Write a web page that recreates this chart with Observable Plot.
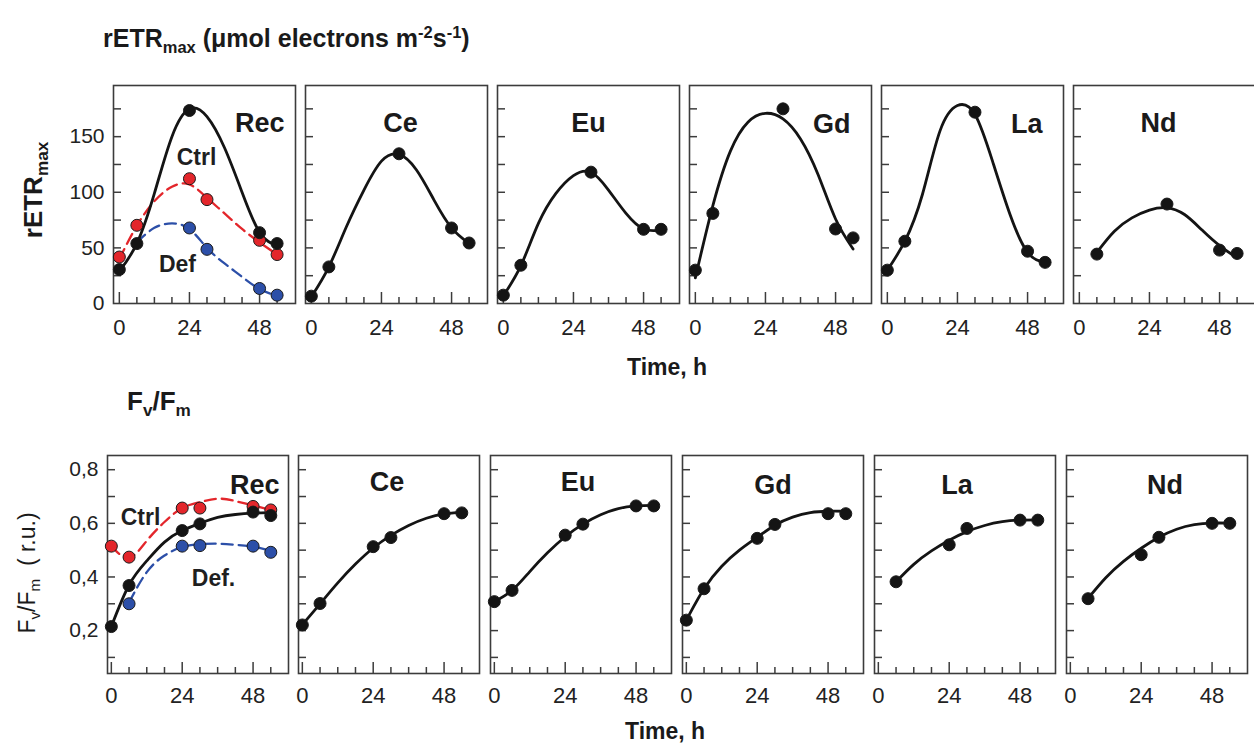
<!DOCTYPE html>
<html><head><meta charset="utf-8">
<script src="https://cdn.jsdelivr.net/npm/d3@7"></script>
<script src="https://cdn.jsdelivr.net/npm/@observablehq/plot@0.6"></script>
<style>
body{margin:0;background:#fff;font-family:"Liberation Sans",Arial,sans-serif;}
#root{position:relative;width:1254px;height:748px;overflow:hidden;background:#fff;}
.lbl{position:absolute;white-space:nowrap;color:#1a1a1a;}
.rot{transform:translate(-50%,-50%) rotate(-90deg);}
.mid{transform:translate(0,-50%);}
.lbl sub,.lbl sup{font-size:66%;line-height:0;}
</style></head><body><div id="root"></div>
<script>
// ---------- data ----------
const elements = ["Rec","Ce","Eu","Gd","La","Nd"];
const sampleTimes = [0, 6, 24, 30, 48, 54];
const fitTimes = [0, 6, 12, 18, 24, 30, 36, 42, 48, 54];
const xTicksMinor = [6, 12, 18, 30, 36, 42, 54];
const xTicksMajor = [0, 24, 48];
const xTickLabels = [0, 24, 48];
const etrTicks = [25, 50, 75, 100, 125, 150, 175];
const etrTickLabels = [0, 50, 100, 150];
const fvTicks = [0.1, 0.2, 0.3, 0.4, 0.5, 0.6, 0.7, 0.8];
const fvTickLabels = [0.2, 0.4, 0.6, 0.8];

// rETRmax measured points (null = no point)
const etrRec  = [30.5, 53.9, 173.5, null, 63.7, 53.9];
const etrCtrl = [41.8, 70.3, 112.2, 93.4, 56.8, 44.0];
const etrDef  = [null, null, 67.9, 48.7, 13.5, 7.5];
const etrCe   = [6.6, 32.9, null, 134.6, 67.9, 54.4];
const etrEu   = [7.5, 34.4, null, 118.1, 66.7, 66.7];
const etrGd   = [30.0, 81.0, null, 175.0, 67.0, 59.0];
const etrLa   = [30.0, 56.0, null, 172.0, 47.0, 37.0];
const etrNd   = [null, 44.4, null, 89.4, 48.0, 45.0];
// rETRmax fitted curves read at fitTimes
const etrRecFit  = [29, 54, 99, 150, 175, 168, 140, 100, 64, 52];
const etrCtrlFit = [40, 70, 92, 105, 107, 95, 81, 67, 55, 44];
const etrDefFit  = [null, 55, 68, 72, 67, 50, 36, 24, 13, 7];
const etrCeFit   = [6, 33, 69, 102, 128, 134, 120, 93, 68, 54];
const etrEuFit   = [7, 34, 72, 99, 115, 118, 102, 81, 67, 66];
const etrGdFit   = [23, 88, 137, 163, 171, 166, 148, 116, 76, 49];
const etrLaFit   = [30, 56, 98, 155, 178, 170, 128, 80, 46, 37];
const etrNdFit   = [null, 46, 65, 77, 84, 86, 80, 66, 52, 41];

// Fv/Fm measured points
const fvRec  = [0.215, 0.368, 0.573, 0.598, 0.642, 0.629];
const fvCtrl = [0.515, 0.474, 0.657, 0.657, 0.663, 0.650];
const fvDef  = [null, 0.300, 0.515, 0.517, 0.515, 0.492];
const fvCe   = [0.221, 0.301, 0.513, 0.547, 0.636, 0.639];
const fvEu   = [0.308, 0.350, 0.556, 0.597, 0.665, 0.665];
const fvGd   = [0.239, 0.356, 0.544, 0.596, 0.636, 0.636];
const fvLa   = [null, 0.382, 0.520, 0.581, 0.612, 0.612];
const fvNd   = [null, 0.319, 0.483, 0.548, 0.600, 0.600];
// Fv/Fm fitted curves read at fitTimes
const fvRecFit  = [0.215, 0.370, 0.460, 0.530, 0.573, 0.600, 0.622, 0.633, 0.638, 0.640];
const fvCtrlFit = [0.515, 0.472, 0.535, 0.605, 0.657, 0.679, 0.692, 0.683, 0.667, 0.650];
const fvDefFit  = [null, 0.305, 0.418, 0.480, 0.512, 0.522, 0.524, 0.520, 0.513, 0.498];
const fvCeFit   = [0.222, 0.300, 0.378, 0.448, 0.508, 0.555, 0.592, 0.619, 0.635, 0.641];
const fvEuFit   = [0.308, 0.350, 0.420, 0.490, 0.550, 0.597, 0.632, 0.655, 0.665, 0.667];
const fvGdFit   = [0.239, 0.356, 0.440, 0.500, 0.548, 0.593, 0.623, 0.640, 0.645, 0.645];
const fvLaFit   = [null, 0.382, 0.447, 0.497, 0.537, 0.569, 0.592, 0.606, 0.612, 0.613];
const fvNdFit   = [null, 0.320, 0.397, 0.458, 0.507, 0.548, 0.578, 0.595, 0.601, 0.601];

// ---------- helpers ----------
const rows = (times, vals) => times.map((t, i) => ({t, v: vals[i]})).filter(d => d.v != null);
const BLACK = "#141414", RED = "#e3262b", BLUE = "#2c4fa8", FRAME = "#3c3c3c";
const FONT = "Liberation Sans, Arial, sans-serif";
const root = document.getElementById("root");

function mkSeries(pts, fit, color, dashed) {
  return {pts: rows(sampleTimes, pts), fit: rows(fitTimes, fit), color, dashed};
}

function panel(o) {
  const mL = o.first ? 72 : 4, mR = 4, mT = 4, mB = 36;
  const marks = [
    Plot.frame({stroke: FRAME, strokeWidth: 1.6}),
    Plot.tickY(o.yTicks, {y: d => d, insetRight: o.w - 8, stroke: FRAME, strokeWidth: 1.5}),
    Plot.tickX(xTicksMinor, {x: d => d, insetTop: o.h - 6, stroke: FRAME, strokeWidth: 1.5}),
    Plot.tickX(xTicksMajor, {x: d => d, insetTop: o.h - 11, stroke: FRAME, strokeWidth: 1.5}),
    Plot.text(xTickLabels, {x: d => d, text: d => String(d), frameAnchor: "bottom", lineAnchor: "middle",
      dy: o.labelDy, fontSize: 22, fill: "#222"})
  ];
  if (o.first) {
    marks.push(Plot.text(o.yLabels, {y: d => d, text: o.yFormat, frameAnchor: "left", textAnchor: "end",
      lineAnchor: "middle", dx: -9, fontSize: 21, fill: "#222"}));
  }
  for (const s of o.series) {
    marks.push(Plot.line(s.fit, {x: "t", y: "v", curve: "natural", stroke: s.color,
      strokeWidth: s.dashed ? 2.3 : 2.8, strokeDasharray: s.dashed ? "11,6" : null}));
  }
  for (const s of o.series) {
    marks.push(Plot.dot(s.pts, {x: "t", y: "v", r: 6, fill: s.color, stroke: "#1a1a1a", strokeWidth: 1}));
  }
  marks.push(Plot.text([o.name], {text: d => d, frameAnchor: o.nameAnchor, textAnchor: o.nameTA, lineAnchor: "middle",
    dx: o.nameDx, dy: o.nameDy, fontSize: 27, fontWeight: "bold", fill: "#1a1a1a"}));
  for (const t of (o.extra || [])) {
    marks.push(Plot.text([t.text], {text: d => d, frameAnchor: "top-left", textAnchor: "middle", lineAnchor: "middle",
      dx: t.dx, dy: t.dy, fontSize: 23, fontWeight: "bold", fill: "#1f1f1f"}));
  }
  const svg = Plot.plot({
    width: mL + o.w + mR, height: mT + o.h + mB,
    marginLeft: mL, marginRight: mR, marginTop: mT, marginBottom: mB,
    x: {domain: o.xDomain, axis: null},
    y: {domain: o.yDomain, axis: null},
    style: {fontFamily: FONT, overflow: "visible", background: "none"},
    marks
  });
  svg.style.position = "absolute";
  svg.style.left = (o.left - mL) + "px";
  svg.style.top = (o.top - mT) + "px";
  svg.style.overflow = "visible";
  root.appendChild(svg);
}

// ---------- top row: rETRmax ----------
const topLefts = [113, 305, 497, 689, 881, 1073];
const topSeries = [
  [mkSeries(etrCtrl, etrCtrlFit, RED, true), mkSeries(etrDef, etrDefFit, BLUE, true), mkSeries(etrRec, etrRecFit, BLACK, false)],
  [mkSeries(etrCe, etrCeFit, BLACK, false)],
  [mkSeries(etrEu, etrEuFit, BLACK, false)],
  [mkSeries(etrGd, etrGdFit, BLACK, false)],
  [mkSeries(etrLa, etrLaFit, BLACK, false)],
  [mkSeries(etrNd, etrNdFit, BLACK, false)]
];
const topNamePos = [
  {a: "top-right", ta: "end", dx: -11, dy: 38},
  {a: "top", ta: "middle", dx: 4, dy: 38},
  {a: "top", ta: "middle", dx: 0, dy: 38},
  {a: "top-right", ta: "end", dx: -21, dy: 39},
  {a: "top-right", ta: "end", dx: -21, dy: 39},
  {a: "top", ta: "middle", dx: -6, dy: 38}
];
elements.forEach((name, i) => panel({
  left: topLefts[i], top: 85, w: 182, h: 218, first: i === 0,
  xDomain: [-2, 60.3], yDomain: [0, 196],
  yTicks: etrTicks, yLabels: etrTickLabels, yFormat: d => String(d),
  labelDy: 24, series: topSeries[i], name,
  nameAnchor: topNamePos[i].a, nameTA: topNamePos[i].ta, nameDx: topNamePos[i].dx, nameDy: topNamePos[i].dy,
  extra: i === 0 ? [{text: "Ctrl", dx: 83, dy: 72}, {text: "Def", dx: 64, dy: 179}] : []
}));

// ---------- bottom row: Fv/Fm ----------
const botLefts = [107, 298, 490, 682, 874, 1066];
const botSeries = [
  [mkSeries(fvCtrl, fvCtrlFit, RED, true), mkSeries(fvDef, fvDefFit, BLUE, true), mkSeries(fvRec, fvRecFit, BLACK, false)],
  [mkSeries(fvCe, fvCeFit, BLACK, false)],
  [mkSeries(fvEu, fvEuFit, BLACK, false)],
  [mkSeries(fvGd, fvGdFit, BLACK, false)],
  [mkSeries(fvLa, fvLaFit, BLACK, false)],
  [mkSeries(fvNd, fvNdFit, BLACK, false)]
];
const botNamePos = [
  {a: "top-right", ta: "end", dx: -9, dy: 30},
  {a: "top", ta: "middle", dx: -2, dy: 27},
  {a: "top", ta: "middle", dx: -3, dy: 27},
  {a: "top", ta: "middle", dx: 0, dy: 30},
  {a: "top", ta: "middle", dx: -8, dy: 30},
  {a: "top", ta: "middle", dx: 8, dy: 30}
];
elements.forEach((name, i) => panel({
  left: botLefts[i], top: 455, w: 181, h: 218, first: i === 0,
  xDomain: [-1.3, 60], yDomain: [0.04, 0.853],
  yTicks: fvTicks, yLabels: fvTickLabels, yFormat: d => d.toFixed(1).replace(".", ","),
  labelDy: 22, series: botSeries[i], name,
  nameAnchor: botNamePos[i].a, nameTA: botNamePos[i].ta, nameDx: botNamePos[i].dx, nameDy: botNamePos[i].dy,
  extra: i === 0 ? [{text: "Ctrl", dx: 33, dy: 62}, {text: "Def.", dx: 106, dy: 123}] : []
}));

// ---------- titles & axis labels ----------
function label(html, css, cls) {
  const d = document.createElement("div");
  d.className = "lbl" + (cls ? " " + cls : "");
  d.innerHTML = html;
  Object.assign(d.style, css);
  root.appendChild(d);
}
label("rETR<sub>max</sub> (&mu;mol electrons m<sup>-2</sup>s<sup>-1</sup>)",
  {left: "103px", top: "23px", fontSize: "25px", fontWeight: "bold", lineHeight: "30px"});
label("F<sub>v</sub>/F<sub>m</sub>",
  {left: "127px", top: "386px", fontSize: "26px", fontWeight: "bold", lineHeight: "30px"});
label("Time, h", {left: "627px", top: "367px", fontSize: "23px", fontWeight: "bold", lineHeight: "26px"}, "mid");
label("Time, h", {left: "625px", top: "731px", fontSize: "23px", fontWeight: "bold", lineHeight: "26px"}, "mid");
label("rETR<sub>max</sub>", {left: "33px", top: "190px", fontSize: "26px", fontWeight: "bold", lineHeight: "30px"}, "rot");
label("F<sub>v</sub>/F<sub>m</sub>&nbsp;&nbsp;( r.u.)", {left: "27px", top: "573px", fontSize: "23px", lineHeight: "27px"}, "rot");
</script></body></html>
